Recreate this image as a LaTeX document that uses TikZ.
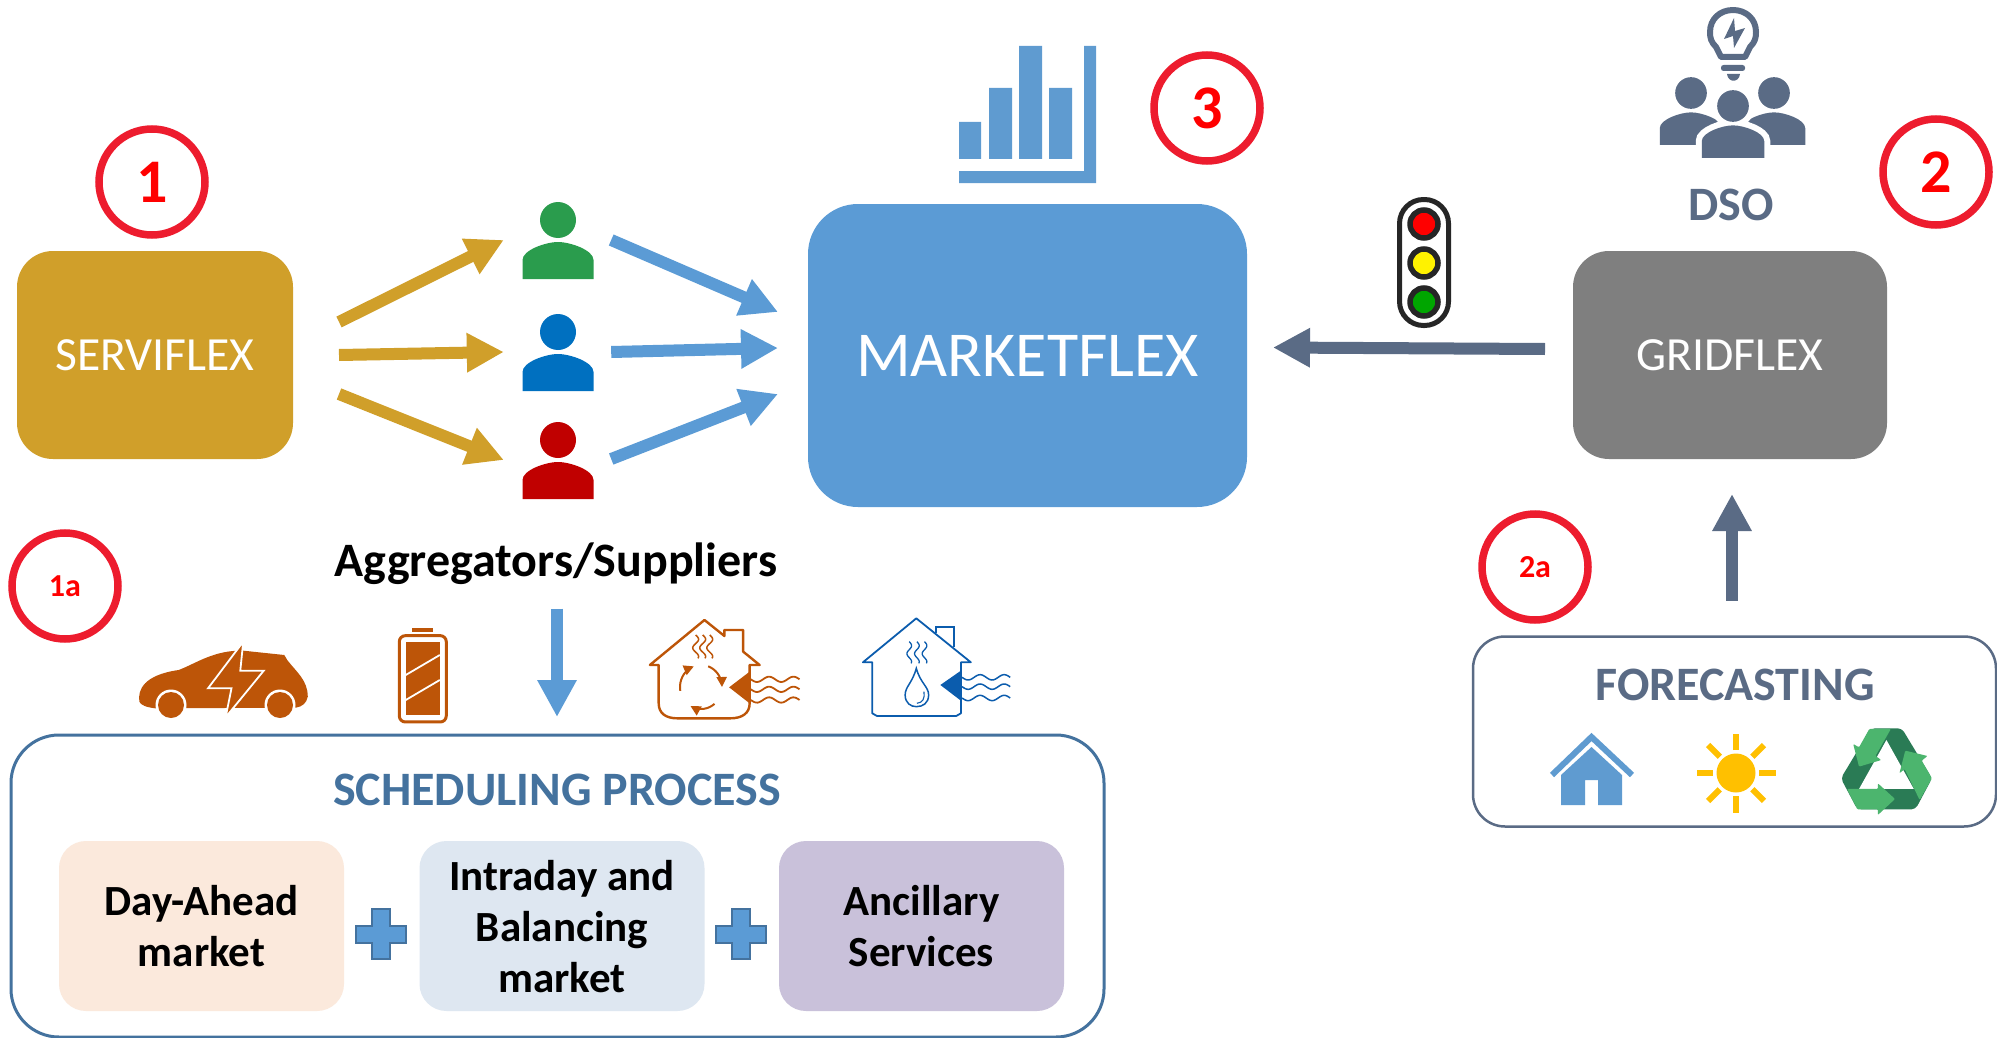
\documentclass[tikz,border=0pt]{standalone}
\usepackage{fontspec}
\setmainfont{Carlito}
\usetikzlibrary{arrows.meta}
\definecolor{goldbox}{HTML}{D09F2A}
\definecolor{marketblue}{HTML}{5B9BD5}
\definecolor{chartblue}{HTML}{5F9BD0}
\definecolor{gridgray}{HTML}{7F7F7F}
\definecolor{slateblue}{HTML}{5A6B85}
\definecolor{schedblue}{HTML}{44729E}
\definecolor{ringred}{HTML}{ED1C2E}
\definecolor{rust}{HTML}{BD5508}
\definecolor{houseblue}{HTML}{0B5CAD}
\definecolor{sungold}{HTML}{FFC000}
\definecolor{recdark}{HTML}{2A7B55}
\definecolor{reclight}{HTML}{4CB56E}
\definecolor{darkline}{HTML}{262626}
\definecolor{aggGreenFill}{HTML}{2A9C4D}
\definecolor{aggBlueFill}{HTML}{0070C0}
\definecolor{aggRedFill}{HTML}{C00000}
\definecolor{dayFill}{HTML}{FBE9DC}
\definecolor{intraFill}{HTML}{DEE7F1}
\definecolor{ancFill}{HTML}{C9C1DA}
\newcommand{\fsize}[1]{\fontsize{#1}{#1}\selectfont}
\newcommand{\personicon}[5][]{%
    \begin{scope}[shift={(#3,#4)},scale=#5]
        \path[fill=#2,#1] (-35.5,59) -- (-35.5,40) .. controls (-35.5,30) and (-12,22) .. (0,22) .. controls (12,22) and (35.5,30) .. (35.5,40) -- (35.5,59) -- cycle;
        \path[fill=#2,#1] (0,0) circle (18);
    \end{scope}}
\begin{document}
\begin{tikzpicture}[y=-1pt,x=1pt]
        \tikzset{
            flexbox/.style={rectangle,rounded corners=36pt,text=white,inner sep=0pt,outer sep=0pt},
            ring/.style={circle,draw=ringred,line width=7.5pt,minimum size=106pt,text=red,inner sep=0pt,font=\fsize{62}\bfseries},
            smallring/.style={ring,font=\fsize{32}\bfseries},
            marketbox/.style={rectangle,rounded corners=27pt,minimum width=285pt,minimum height=170pt,align=center,font=\fsize{43}\bfseries,text depth=0pt,inner sep=0pt,outer sep=0pt},
            groupbox/.style={rectangle,rounded corners=48pt,fill=white,inner sep=0pt,outer sep=0pt},
            heading/.style={font=\fsize{48}\bfseries,inner sep=0pt},
            goldarrow/.style={draw=goldbox,line width=12pt,-{Triangle[length=37pt,width=37pt]}},
            bluearrow/.style={draw=marketblue,line width=12pt,-{Triangle[length=37pt,width=37pt]}},
            slatearrow/.style={draw=slateblue,line width=12pt,-{Triangle[length=37pt,width=37pt]}},
            lamp/.style={circle,draw=darkline,line width=5.5pt,minimum size=28pt,inner sep=0pt},
            plussign/.style={fill=marketblue,draw=schedblue,line width=2pt}
        }
        \useasboundingbox (0,0) rectangle (1997,1038);

        \node[flexbox,fill=goldbox,minimum width=276pt,minimum height=208pt,font=\fsize{47.6}] (serviflex) at (155,355) {SERVIFLEX};
        \node[flexbox,fill=marketblue,rounded corners=50pt,minimum width=439pt,minimum height=303pt,font=\fsize{64}] (marketflex) at (1027.5,355.5) {MARKETFLEX};
        \node[flexbox,fill=gridgray,minimum width=314pt,minimum height=208pt,font=\fsize{47.6}] (gridflex) at (1730,355) {GRIDFLEX};

        \node[ring] (c1) at (152,182) {1};
        \node[ring] (c2) at (1936,172) {2};
        \node[ring] (c3) at (1207,108) {3};
        \node[ring,smallring] (c1a) at (65,586) {1a};
        \node[ring,smallring] (c2a) at (1535,567) {2a};

        % aggregators
        \node[minimum width=72pt,minimum height=77pt,inner sep=0pt] (aggGreen) at (558,240) {};
        \node[minimum width=72pt,minimum height=77pt,inner sep=0pt] (aggBlue) at (558,352) {};
        \node[minimum width=72pt,minimum height=77pt,inner sep=0pt] (aggRed) at (558,460) {};
        \personicon{aggGreenFill}{558}{220}{1}
        \personicon{aggBlueFill}{558}{332}{1}
        \personicon{aggRedFill}{558}{440}{1}
        \node[heading] (aggLabel) at (556,563.5) {Aggregators/Suppliers};

        \draw[goldarrow] ([shift={(46,-33)}]serviflex.east) -- ([shift={(-18,0)}]aggGreen.west);
        \draw[goldarrow] ([shift={(46,0)}]serviflex.east) -- ([shift={(-18,0)}]aggBlue.west);
        \draw[goldarrow] ([shift={(46,39)}]serviflex.east) -- ([shift={(-18,0)}]aggRed.west);
        \draw[bluearrow] ([shift={(17,0)}]aggGreen.east) -- ([shift={(-30,-43.5)}]marketflex.west);
        \draw[bluearrow] ([shift={(17,0)}]aggBlue.east) -- ([shift={(-30,-7.5)}]marketflex.west);
        \draw[bluearrow] ([shift={(17,-1)}]aggRed.east) -- ([shift={(-30,38.5)}]marketflex.west);
        \draw[slatearrow] ([shift={(-28,-6)}]gridflex.west) -- ([shift={(26,-8)}]marketflex.east);

        % chart
        \fill[chartblue] (959,122) rectangle (981,159) (989,88) rectangle (1012,159) (1019,46) rectangle (1042,159) (1049,88) rectangle (1072,159);
        \fill[chartblue] (959,171) -- (1084,171) -- (1084,46) -- (1096,46) -- (1096,183) -- (959,183) -- cycle;

        % traffic light
        \node[rectangle,rounded corners=24pt,draw=darkline,line width=5pt,minimum width=49pt,minimum height=126pt,inner sep=0pt] (lightBox) at (1424,262.5) {};
        \node[lamp,fill=red] (lampRed) at (1424,224) {};
        \node[lamp,fill=yellow] (lampYellow) at (1424,263) {};
        \node[lamp,fill=green!65!black] (lampGreen) at (1424,302) {};

        % dso
        \draw[slateblue,line width=6pt,line join=round] (1721,57) -- (1716,47) .. controls (1711,42) and (1710,38) .. (1710,32) .. controls (1710,19) and (1720,10) .. (1733,10) .. controls (1746,10) and (1756,19) .. (1756,32) .. controls (1756,38) and (1755,42) .. (1750,47) -- (1745,57) -- cycle;
        \fill[slateblue] (1734,18) -- (1724,39) -- (1733,36) -- (1734,48) -- (1745,28) -- (1735,31) -- cycle;
        \fill[slateblue,rounded corners=2.5pt] (1721,65) rectangle (1745,71);
        \fill[slateblue] (1727,74) -- (1740,74) .. controls (1739,83) and (1728,83) .. (1727,74) -- cycle;
        \personicon{slateblue}{1691}{93}{0.88}
        \personicon{slateblue}{1774}{93}{0.88}
        \personicon[draw=white,line width=12pt]{slateblue}{1733}{106}{0.88}
        \personicon{slateblue}{1733}{106}{0.88}
        \node[heading,text=slateblue] (dso) at (1731,205) {DSO};

        % forecasting
        \node[groupbox,draw=slateblue,line width=2.5pt,minimum width=523pt,minimum height=190pt,rounded corners=32pt] (forecastBox) at (1734.5,731.5) {};
        \node[heading,text=slateblue] (forecastLabel) at (1735,685) {FORECASTING};
        \draw[slatearrow] ([shift={(-2.5,-36)}]forecastBox.north) -- ([shift={(2,35)}]gridflex.south);
        \draw[chartblue,line width=6pt] (1552,775) -- (1591.5,737) -- (1632,775);
        \fill[chartblue] (1561,775) -- (1591.5,747) -- (1622,775) -- (1622,805) -- (1598,805) -- (1598,780) -- (1585,780) -- (1585,805) -- (1561,805) -- cycle;
        \fill[sungold] (1736,773) circle (19.5);
        \foreach \ang in {0,45,...,315}
            \draw[sungold,line width=6pt] (1736,773) ++(\ang:23) -- ++(\ang:16.5);
        \begin{scope}[shift={(1460,620)},x=0.3425pt,y=-0.3333pt]
            \fill[recdark,rounded corners=4pt] (1200,325) -- (1290,325) -- (1378,475) -- (1330,568) -- (1160,568) -- (1112,475) -- cycle;
            \fill[white] (1245,360) -- (1325,507) -- (1165,507) -- cycle;
            \fill[reclight,rounded corners=1pt] (1195,327) -- (1258,327) -- (1213,408) -- (1230,420) -- (1165,440) -- (1148,372) -- (1165,382) -- cycle;
            \fill[reclight,rounded corners=1pt] (1300,392) -- (1365,408) -- (1348,422) -- (1378,475) -- (1342,540) -- (1298,447) -- (1283,460) -- cycle;
            \fill[reclight,rounded corners=1pt] (1130,507) -- (1220,507) -- (1220,490) -- (1270,537) -- (1220,585) -- (1220,568) -- (1160,568) -- cycle;
        \end{scope}

        % scheduling
        \node[groupbox,draw=schedblue,line width=3pt,minimum width=1093pt,minimum height=302pt] (schedBox) at (557.5,886) {};
        \node[heading,text=schedblue] (schedLabel) at (557,790) {SCHEDULING PROCESS};
        \node[marketbox,fill=dayFill] (dayAhead) at (201.5,926) {Day-Ahead\\[8pt]market};
        \node[marketbox,fill=intraFill] (intraday) at (562,926) {Intraday and\\[8pt]Balancing\\[8pt]market};
        \node[marketbox,fill=ancFill] (ancillary) at (921.5,926) {Ancillary\\[8pt]Services};
        \foreach \px in {380.5,741} {
            \draw[plussign] (\px-9,909) -- (\px+9,909) -- (\px+9,926) -- (\px+25,926) -- (\px+25,943) -- (\px+9,943) -- (\px+9,959) -- (\px-9,959) -- (\px-9,943) -- (\px-25,943) -- (\px-25,926) -- (\px-9,926) -- cycle;
        }
        \draw[bluearrow] ([shift={(1,24)}]aggLabel.south) -- ([shift={(-0.5,-18)}]schedBox.north);

        % devices, drawn on the crop's grid
        \begin{scope}[shift={(120,600)},x=0.5868pt,y=-0.3333pt]
            \fill[rust] (33,305) .. controls (30,270) and (40,225) .. (100,210) .. controls (130,190) and (160,150) .. (210,152) -- (280,165) -- (285,180) .. controls (300,215) and (320,240) .. (320,290) .. controls (318,310) and (310,320) .. (300,323) -- (60,325) .. controls (45,322) and (35,315) .. (33,305) -- cycle;
            \fill[rust,draw=white,line width=1.8pt] (210,125) -- (150,265) -- (190,265) -- (180,352) -- (245,212) -- (205,212) -- cycle;
            % battery
            \draw[rust,line width=3pt,rounded corners=6pt] (476,107) rectangle (556,366);
            \fill[rust] (498,85) rectangle (533,95);
            \fill[rust] (487,125) rectangle (545,345);
            \draw[white,line width=1.8pt] (487,225) -- (545,165) (487,300) -- (545,240);
            % orange house
            \draw[rust,line width=2.4pt,line join=round] (996,60) -- (903,195) -- (918,195) -- (918,310) .. controls (918,340) and (930,355) .. (950,355) -- (1040,355) .. controls (1060,355) and (1073,340) .. (1073,310) -- (1073,195) -- (1090,195) -- (1062,155) -- (1062,90) -- (1030,90) -- (1030,108) -- cycle;
            \fill[rust] (1038,262) -- (1073,215) -- (1073,310) -- cycle;
            \foreach \sx in {981,993,1005}
                \draw[rust,line width=1.5pt] plot[domain=105:175,samples=25,smooth] ({\sx+5*sin((\x-105)*7)},\x);
            \foreach \wy in {238,268,300}
                \draw[rust,line width=1.8pt] plot[domain=0:83,samples=30,smooth] ({1075+\x},{\wy+8*sin(\x*8.67)});
            % blue house
            \draw[houseblue,line width=1.8pt,line join=round] (1357,55) -- (1266,187) -- (1282,187) -- (1282,340) -- (1290,348) -- (1425,348) -- (1433,340) -- (1433,187) -- (1450,187) -- cycle;
            \draw[houseblue,line width=1.8pt] (1390,100) -- (1390,82) -- (1421,82) -- (1421,140);
            \fill[houseblue] (1398,255) -- (1433,212) -- (1433,302) -- cycle;
            \foreach \sx in {1345,1358,1371}
                \draw[houseblue,line width=1.3pt] plot[domain=125:190,samples=25,smooth] ({\sx+4*sin((\x-125)*7.5)},\x);
            \foreach \wy in {232,260,294}
                \draw[houseblue,line width=1.5pt] plot[domain=0:82,samples=30,smooth] ({1435+\x},{\wy+8*sin(\x*8.78)});
            \draw[houseblue,line width=1.5pt] (1357,205) .. controls (1350,250) and (1338,260) .. (1338,285) .. controls (1338,310) and (1348,320) .. (1357,320) .. controls (1368,320) and (1378,310) .. (1378,285) .. controls (1378,260) and (1364,250) .. (1357,205) -- cycle;
            \draw[houseblue,line width=1.1pt] (1370,275) .. controls (1372,295) and (1368,308) .. (1358,310);
        \end{scope}
        \fill[white] (171,705) circle (15.5) (280,705) circle (15.5);
        \fill[rust] (171,705) circle (13) (280,705) circle (13);
        \foreach \from/\to in {-70/0,50/120,170/250}
            \draw[rust,line width=2pt,-{Triangle[length=10pt,width=10pt]}] plot[domain=\from:\to,samples=12,smooth] ({701+21*cos(\x)},{687+22*sin(\x)});
    \end{tikzpicture}
\end{document}
